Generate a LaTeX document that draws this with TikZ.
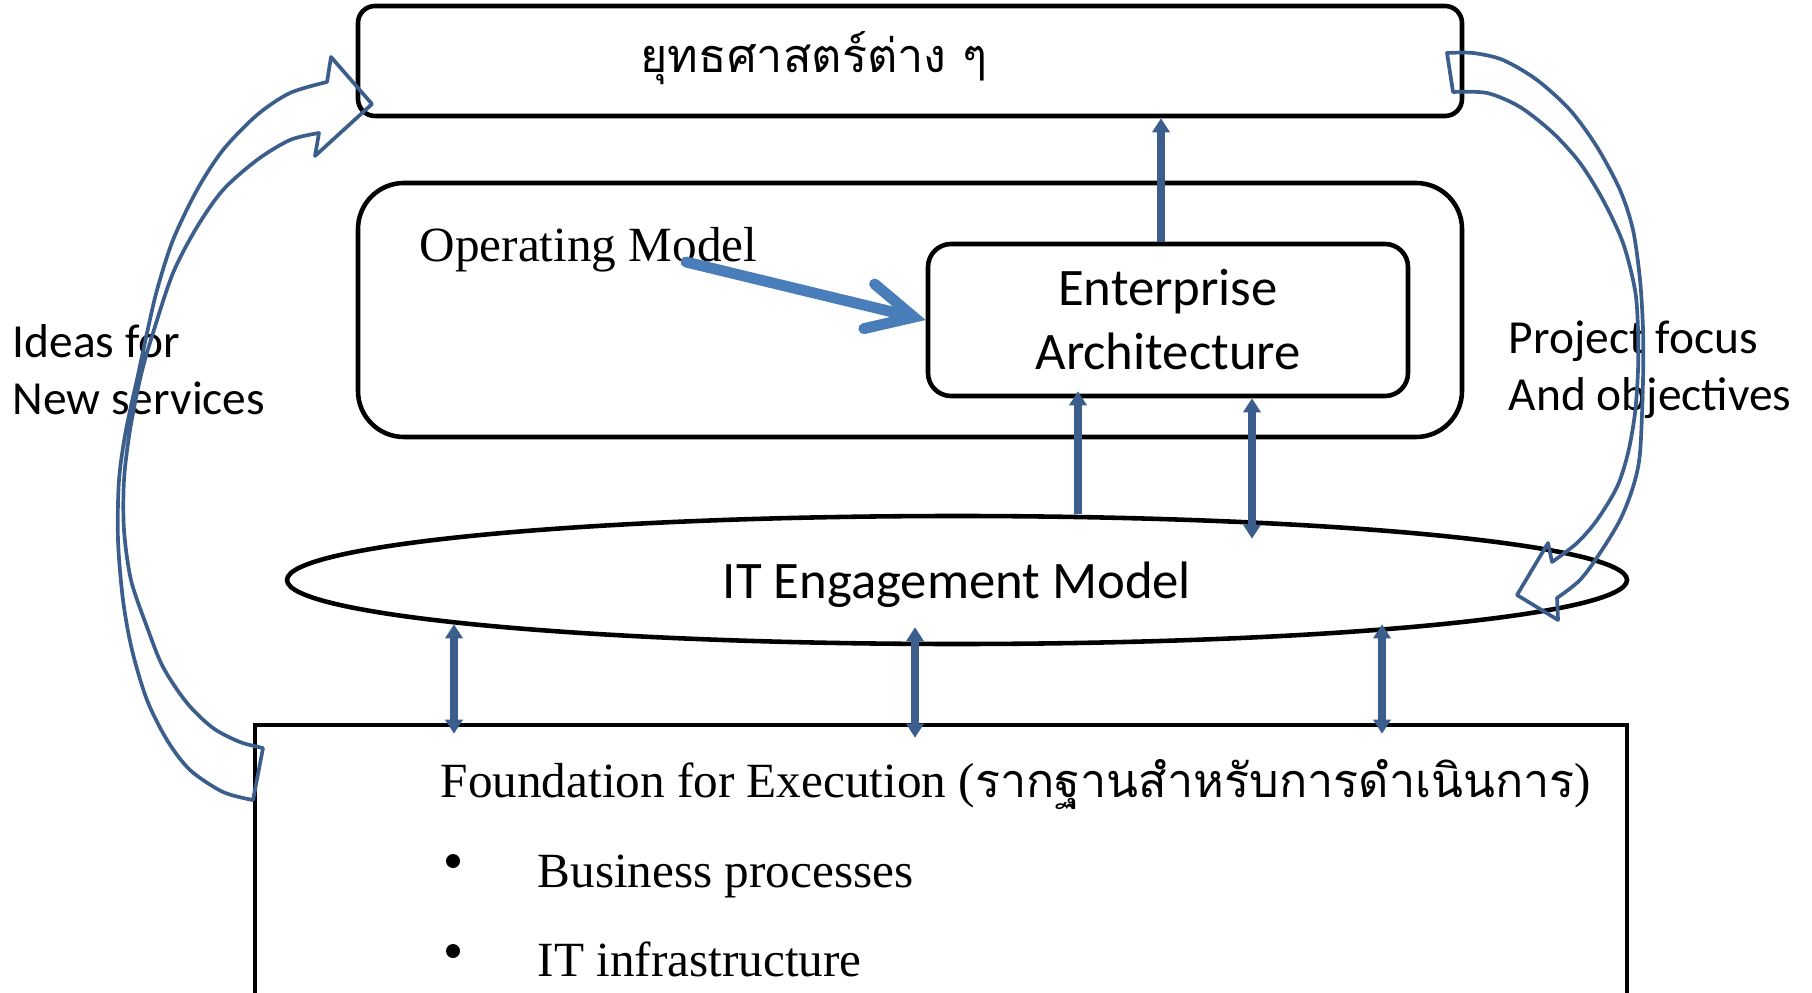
\documentclass[tikz,border=0pt]{standalone}
\usepackage{fontspec}
\usepackage{tikz}
\usetikzlibrary{arrows.meta, shapes.geometric}
\setmainfont{Liberation Serif}
\newfontfamily\thaifont[Script=Thai]{Loma}
\newfontfamily\calibri{Carlito}
\definecolor{linkblue}{RGB}{59,94,140}
\definecolor{opblue}{RGB}{74,126,187}

\begin{document}
\begin{tikzpicture}[x=0.1mm, y=-0.1mm,
		box/.style={draw, line width=1.3pt, rounded corners=#1},
		box/.default=1.7mm,
		lbl/.style={font=\calibri\fontsize{13.5}{16.3}\selectfont, align=left, anchor=west, inner sep=0pt},
		serif/.style={font=\fontsize{14}{17}\selectfont, anchor=base west, inner sep=0pt},
		dot/.style={circle, fill, inner sep=0pt, minimum size=1.4mm},
		link/.style={draw=linkblue, line width=2.1pt, {Triangle[length=1.4mm,width=1.7mm]}-{Triangle[length=1.4mm,width=1.7mm]}},
		uplink/.style={draw=linkblue, line width=2.1pt, -{Triangle[length=1.4mm,width=1.7mm]}},
		bigarrow/.style={draw=linkblue, line width=1.05pt, line join=round}]
		\useasboundingbox (0,0) rectangle (1812,993);
		\clip (0,0) rectangle (1812,993);
		
		\node[box, minimum width=110.4mm, minimum height=11mm] (strategy) at (910,61) {};
		\node[font=\thaifont\fontsize{13.3}{16}\selectfont] (stitle) at (814,58) {ยุทธศาสตร์ต่าง ๆ};
		
		\node[box=4.6mm, minimum width=110.4mm, minimum height=25.4mm] (opbox) at (910,310) {};
		\node[serif] (optext) at (419,262) {Operating Model};
		
		\node[box=2.3mm, minimum width=48mm, minimum height=15.2mm, align=center,
			font=\calibri\fontsize{15}{18.2}\selectfont] (ea) at (1168,320) {Enterprise\\Architecture};
		
		\node[draw, ellipse, line width=1.3pt, minimum width=134mm, minimum height=12.8mm, inner sep=0pt,
			text depth=0pt, font=\calibri\fontsize{15}{18}\selectfont] (itmodel) at (957,580) {IT Engagement Model};
		
		\node[draw, line width=1.3pt, minimum width=137.2mm, minimum height=28.6mm] (foundation) at (941,868) {};
		\node[serif] (ftitle) at (440,797) {Foundation for Execution ({\thaifont\fontsize{13.3}{16}\selectfont รากฐานสำหรับการดำเนินการ})};
		\node[dot] (dot1) at (453,861) {};
		\node[serif] (item1) at (537,887) {Business processes};
		\node[dot] (dot2) at (453,951) {};
		\node[serif] (item2) at (537,976) {IT infrastructure};
		
		\node[lbl] (ideas) at (12,370) {Ideas for\\New services};
		\node[lbl] (focus) at (1508,370) {Project focus\\And objectives};
		
		\coordinate (upx) at (1161,0);
		\coordinate (eax1) at (1078,0);
		\coordinate (eax2) at (1252,0);
		\coordinate (fx1) at (454,0);
		\coordinate (fx2) at (915,0);
		\coordinate (fx3) at (1382,0);
		
		%========================================================================
		% Arrows
		\draw[uplink] (ea.north -| upx) to (strategy.south -| upx);
		\draw[uplink, shorten >=-0.7mm] (itmodel.north -| eax1) to (ea.south -| eax1);
		\draw[link, shorten >=-2.5mm] (ea.south -| eax2) to (itmodel.north -| eax2);
		\draw[link, shorten <=-2.2mm, shorten >=-1.1mm] (itmodel.south -| fx1) to (foundation.north -| fx1);
		\draw[link, shorten <=-1.9mm, shorten >=-1.5mm] (itmodel.south -| fx2) to (foundation.north -| fx2);
		\draw[link, shorten <=-2.2mm, shorten >=-1.1mm] (itmodel.south -| fx3) to (foundation.north -| fx3);
		\draw[opblue, line width=3.1pt, line cap=round,
			-{Straight Barb[length=4.6mm, width=4.6mm, line cap=round]}] ([xshift=-7.2mm]optext.base east) to (ea.west);
		
		% curved block arrows
		\draw[bigarrow] plot[smooth] coordinates {(253,800) (223,792) (190,770) (167,740) (147,700) (132,650)
				(123,600) (118,540) (119,480) (126,430) (138,375) (147,333) (157,290) (173,240) (197,190)
				(223,150) (257,115) (290,93) (327,82)}
			-- (331,57) -- (372,104) -- (315,156)
			-- plot[smooth] coordinates {(319,133) (290,140) (257,160) (223,190) (197,227) (173,273) (153,333)
				(141,375) (130,430) (124,480) (124,530) (131,580) (147,627) (163,667) (187,703) (213,728)
				(240,742) (263,748)} -- cycle;
		\draw[bigarrow] plot[smooth] coordinates {(1447,53) (1473,53) (1503,60) (1537,80) (1570,110) (1597,147)
				(1620,190) (1633,230) (1640,280) (1643,330) (1643,380) (1640,453) (1633,487) (1620,520)
				(1600,553) (1580,580) (1557,598)}
			-- (1558,620) -- (1517,595) -- (1548,543)
			-- plot[smooth] coordinates {(1552,562) (1577,543) (1597,520) (1617,487) (1628,453) (1635,413)
				(1638,370) (1638,330) (1635,290) (1623,243) (1603,200) (1580,163) (1553,133) (1520,107)
				(1487,93) (1453,92)} -- cycle;
	\end{tikzpicture}
\end{document}
